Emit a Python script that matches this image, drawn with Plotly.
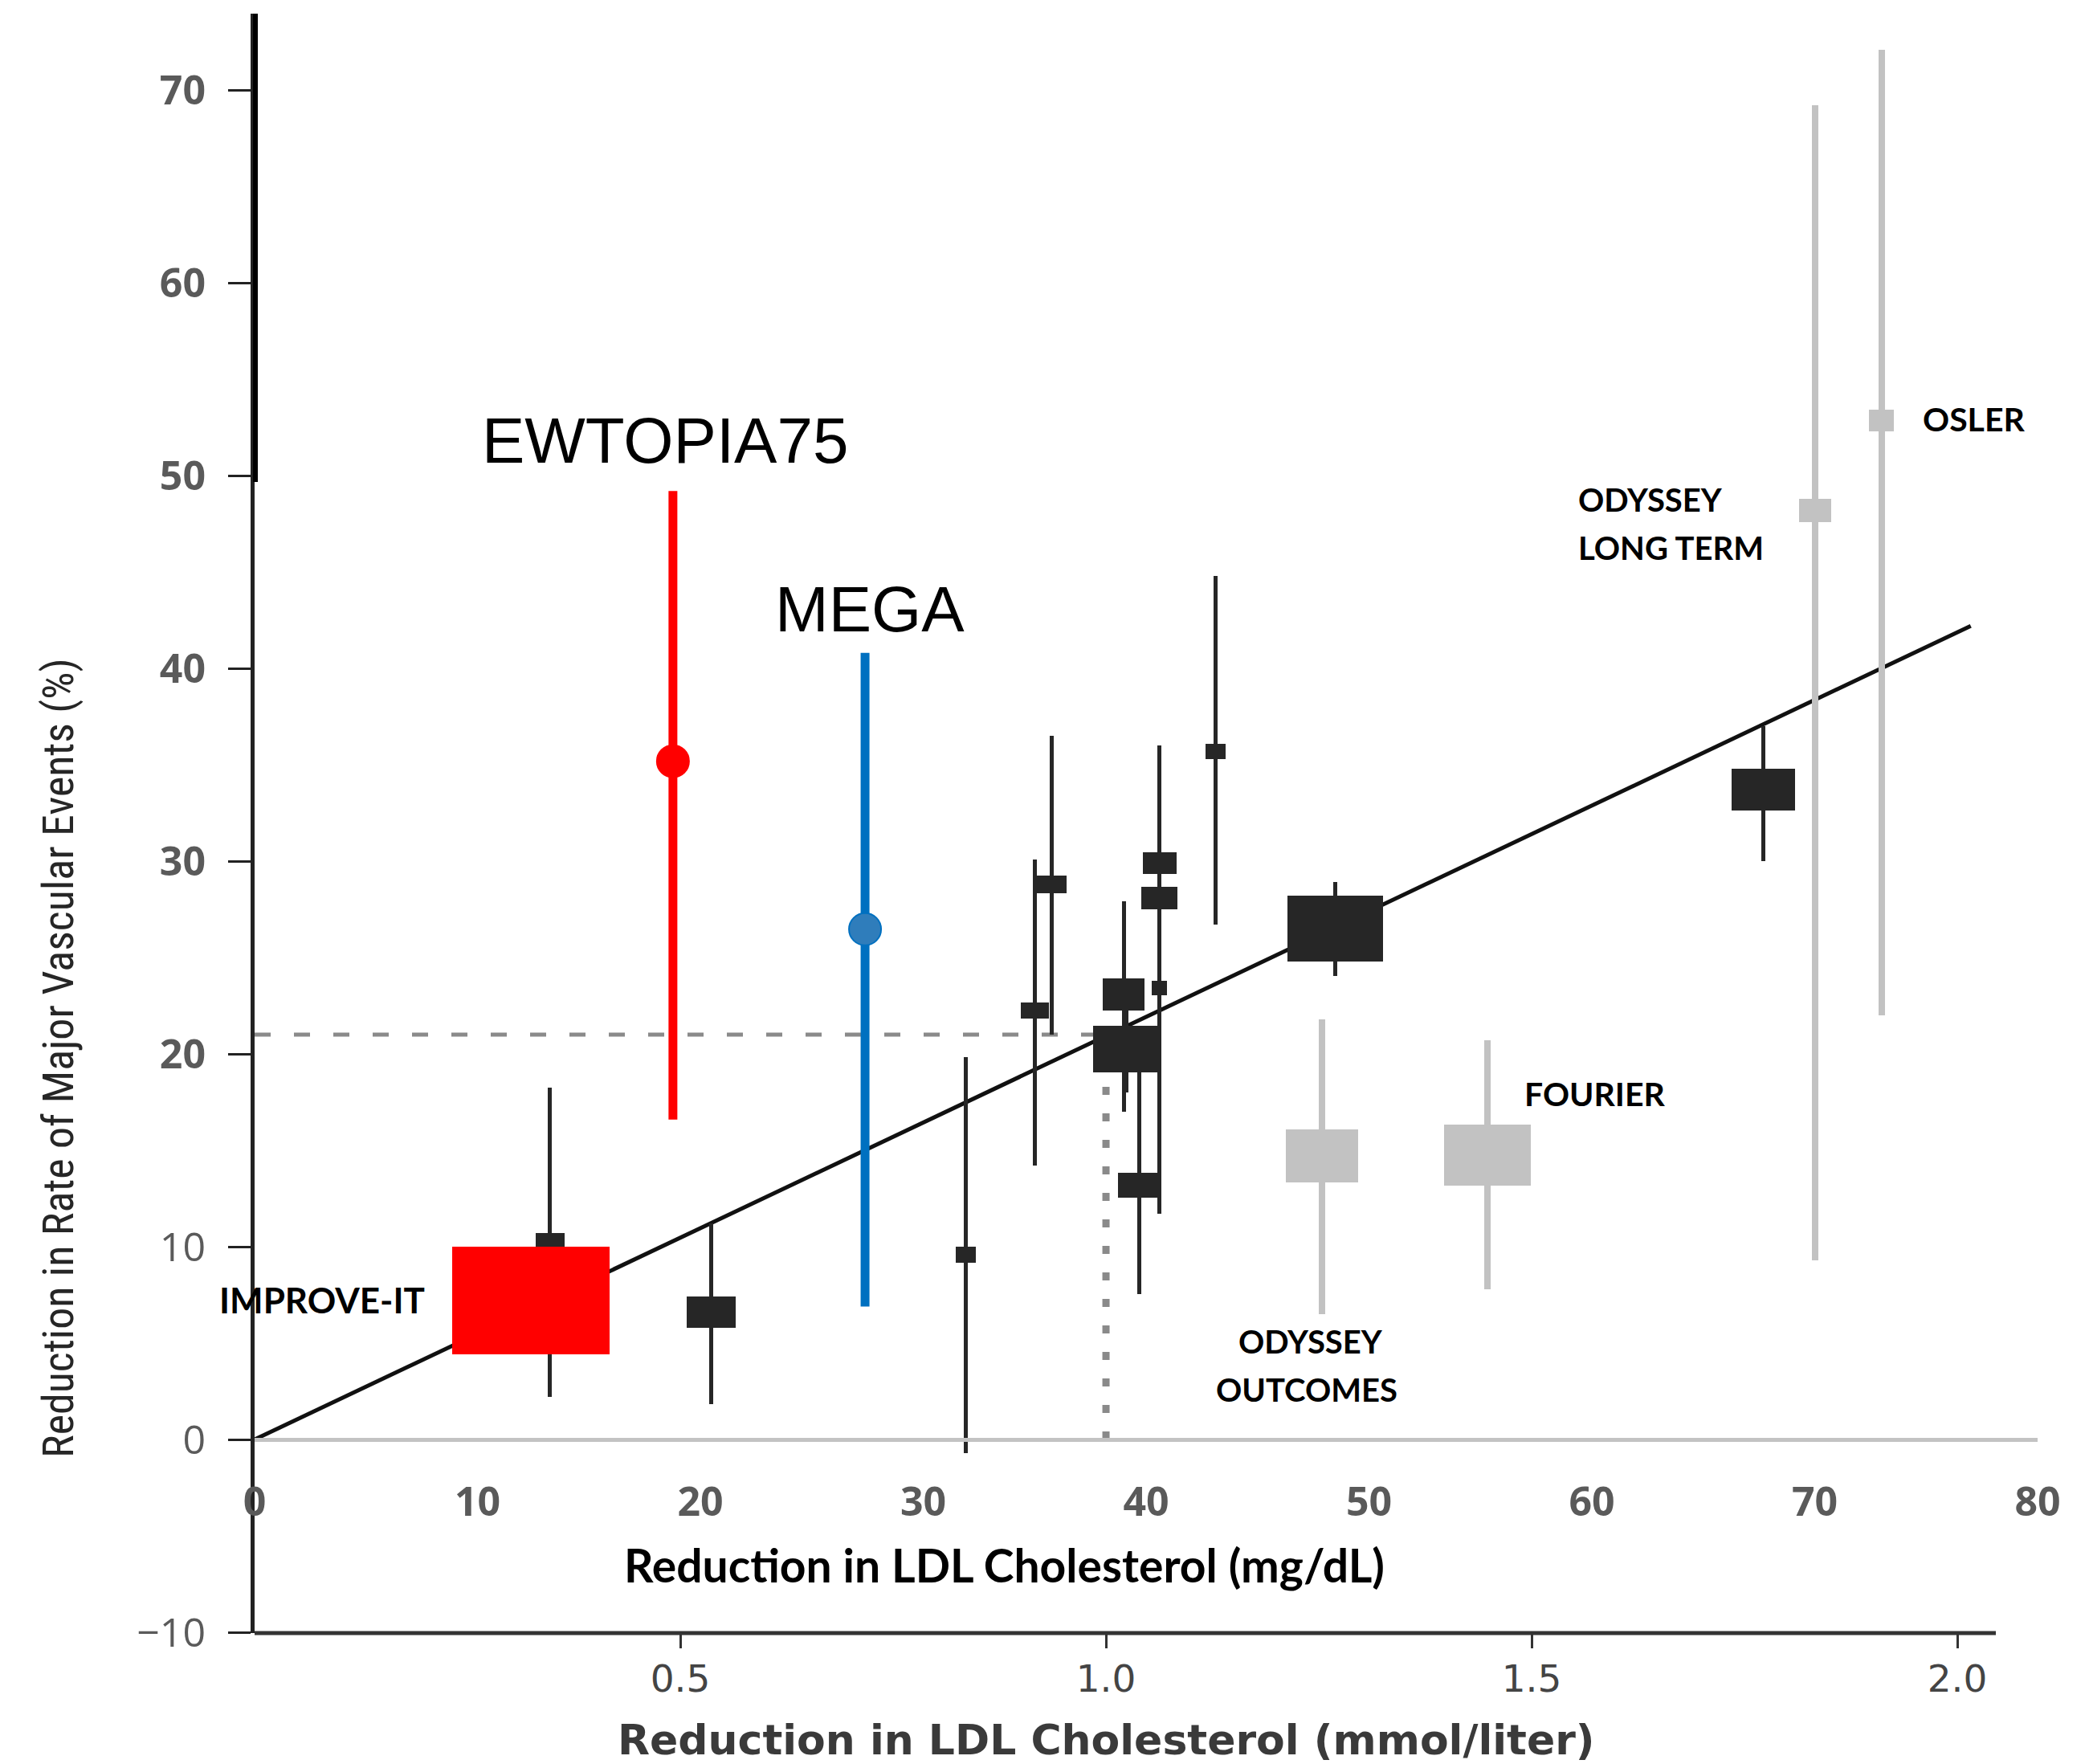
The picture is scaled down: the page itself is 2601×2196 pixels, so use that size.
import plotly.graph_objects as go

# ---------------- data ----------------
# CTT statin trials (reduction in LDL mg/dL, reduction in major vascular events %)
ctt_x = [13.25, 20.5, 31.9, 35.0, 35.76, 39.0, 39.1, 39.7, 40.6, 40.6, 40.6, 43.1, 48.5, 67.7]
ctt_y = [10.0, 6.6, 9.6, 22.25, 28.8, 23.1, 20.25, 13.2, 29.9, 28.1, 23.4, 35.7, 26.5, 33.7]
ctt_lo = [2.2, 1.85, -0.7, 14.2, 21.0, 17.0, 18.0, 7.55, 24.0, 21.0, 11.7, 26.7, 24.05, 30.0]
ctt_hi = [18.25, 11.2, 19.85, 30.1, 36.5, 27.9, 22.6, 19.5, 36.0, 33.0, 29.0, 44.8, 28.9, 37.0]

# PCSK9 inhibitor trials
pcsk9_names = ["ODYSSEY OUTCOMES", "FOURIER", "ODYSSEY LONG TERM", "OSLER"]
pcsk9_x = [47.9, 55.3, 70.0, 73.0]
pcsk9_y = [14.7, 14.75, 48.2, 52.85]
pcsk9_lo = [6.5, 7.8, 9.3, 22.0]
pcsk9_hi = [21.8, 20.7, 69.2, 72.1]

# IMPROVE-IT
improve_x = [12.4]
improve_y = [7.23]

# Japanese trials
jp_names = ["EWTOPIA75", "MEGA"]
jp_x = [18.77, 27.39]
jp_y = [35.18, 26.47]
jp_lo = [16.6, 6.9]
jp_hi = [49.2, 40.8]

# regression line and reference point (1 mmol/L ~ 21 %)
reg_x = [0, 77.0]
reg_y = [0, 42.2]
ref_x = 38.2
ref_y = 21.0

mg_ticks = [0, 10, 20, 30, 40, 50, 60, 70, 80]
mmol_ticks = [0.5, 1.0, 1.5, 2.0]
mmol_labels = ["0.5", "1.0", "1.5", "2.0"]
y_ticks = [-10, 0, 10, 20, 30, 40, 50, 60, 70]
y_labels = ["\u221210", "0", "10", "<b>20</b>", "<b>30</b>", "<b>40</b>", "<b>50</b>", "<b>60</b>", "<b>70</b>"]

# ---------------- style ----------------
OFF = 8                      # default page body margin
W, H = 2601 - OFF, 2196 - OFF
L, R, T, B = 317 - OFF, 64, 17 - OFF, 163
XR = [0, 80]
YR = [-10.04, 73.96]
MMOL_MAX = 2.0943
PW, PH = W - L - R, H - T - B
PXX = PW / (XR[1] - XR[0])
PXY = PH / (YR[1] - YR[0])

ctt_box_w = [36, 61, 25, 35, 37, 52, 82, 53, 42, 45, 19, 25, 119, 79]
ctt_box_h = [34, 39, 20, 20, 22, 40, 58, 31, 27, 28, 18, 19, 82, 52]
pcsk9_box_w = [90, 108, 40, 31]
pcsk9_box_h = [66, 76, 29, 27]
improve_w, improve_h = 196, 134
BLACK = "#262626"
GRAY = "#c2c2c2"


def px(X):
    # screen pixel -> paper fraction
    return (X - OFF - L) / PW


def py(Y):
    return (T + PH - (Y - OFF)) / PH


fig = go.Figure()

# base subplot: regression + reference lines
fig.add_trace(go.Scatter(x=reg_x, y=reg_y, mode="lines",
                         line=dict(color="#111111", width=5), hoverinfo="skip"))
fig.add_trace(go.Scatter(x=[0, ref_x], y=[ref_y, ref_y], mode="lines",
                         line=dict(color="#8a8a8a", width=5, dash="20px,29px"), hoverinfo="skip"))
fig.add_trace(go.Scatter(x=[ref_x, ref_x], y=[0, ref_y], mode="lines",
                         line=dict(color="#8a8a8a", width=9, dash="10px,23px"), hoverinfo="skip"))
# empty trace to register mmol axis
fig.add_trace(go.Scatter(x=[], y=[], xaxis="x2", yaxis="y", hoverinfo="skip"))


def whisker_bar(xs, lo, hi, wpx, color):
    return go.Bar(x=xs, base=lo, y=[h - l for l, h in zip(lo, hi)],
                  width=[wpx / PXX] * len(xs), marker=dict(color=color, line=dict(width=0)),
                  xaxis="x3", yaxis="y3", hoverinfo="skip")


def box_bar(xs, ys, wpx, hpx, color):
    hs = [h / PXY for h in hpx]
    return go.Bar(x=xs, base=[y - h / 2 for y, h in zip(ys, hs)], y=hs,
                  width=[w / PXX for w in wpx], marker=dict(color=color, line=dict(width=0)),
                  xaxis="x3", yaxis="y3", hoverinfo="skip")


fig.add_trace(whisker_bar(ctt_x, ctt_lo, ctt_hi, 5, BLACK))
fig.add_trace(box_bar(ctt_x, ctt_y, ctt_box_w, ctt_box_h, BLACK))
fig.add_trace(whisker_bar(pcsk9_x, pcsk9_lo, pcsk9_hi, 8, GRAY))
fig.add_trace(box_bar(pcsk9_x, pcsk9_y, pcsk9_box_w, pcsk9_box_h, GRAY))
fig.add_trace(box_bar(improve_x, improve_y, [improve_w], [improve_h], "#ff0000"))

# Japanese trials
jp_colors = ["#ff0000", "#0070c0"]
jp_fill = ["#ff0000", "#2f7dbb"]
for i in range(2):
    fig.add_trace(go.Scatter(
        x=[jp_x[i]], y=[jp_y[i]], mode="markers",
        marker=dict(size=40, color=jp_fill[i], line=dict(color=jp_colors[i], width=2)),
        error_y=dict(type="data", symmetric=False, array=[jp_hi[i] - jp_y[i]],
                     arrayminus=[jp_y[i] - jp_lo[i]], color=jp_colors[i], thickness=11, width=0),
        xaxis="x3", yaxis="y3", hoverinfo="skip"))

anns = []


def ann(text, X, Y, size, family, color="#000000", xanchor="center", weight="normal", angle=0):
    anns.append(dict(text=text, x=px(X), y=py(Y), xref="paper", yref="paper",
                     xanchor=xanchor, yanchor="middle", showarrow=False, textangle=angle,
                     font=dict(size=size, family=family, color=color, weight=weight)))


ann("EWTOPIA75", 828, 549, 80, "Liberation Sans")
ann("MEGA", 1083, 758, 80, "Liberation Sans")
ann("IMPROVE-IT", 401, 1618, 44, "Lato", weight="bold")
ann("ODYSSEY", 1632, 1670, 40, "Lato", weight="bold")
ann("OUTCOMES", 1627, 1730, 40, "Lato", weight="bold")
ann("FOURIER", 1896, 1361, 41, "Lato", xanchor="left", weight="bold")
ann("ODYSSEY", 1963, 622, 40, "Lato", xanchor="left", weight="bold")
ann("LONG TERM", 1963, 682, 40, "Lato", xanchor="left", weight="bold")
ann("OSLER", 2392, 521, 41, "Lato", xanchor="left", weight="bold")
ann("Reduction in LDL Cholesterol (mg/dL)", 1250, 1948, 57, "Lato", weight="bold")
ann("Reduction in LDL Cholesterol (mmol/liter)", 1377, 2166, 52, "DejaVu Sans", color="#3a3a3a", weight="bold")
ann("Reduction in Rate of Major Vascular Events (%)", 73, 1317, 54,
    "Liberation Sans Narrow, Roboto Condensed, Liberation Sans", color="#262626", angle=-90)

fig.update_layout(
    width=W, height=H,
    margin=dict(l=L, r=R, t=T, b=B, pad=0),
    paper_bgcolor="white", plot_bgcolor="rgba(0,0,0,0)",
    showlegend=False, barmode="overlay", bargap=0,
    xaxis=dict(domain=[0, 1], range=XR, anchor="free", position=(0 - YR[0]) / (YR[1] - YR[0]),
               showline=True, linecolor="#c3c3c3", linewidth=5, ticks="",
               tickvals=mg_ticks, ticktext=[str(v) for v in mg_ticks],
               tickfont=dict(family="Open Sans", size=50, color="#5a5a5a", weight="bold"),
               ticklabelstandoff=32, showgrid=False, zeroline=False),
    xaxis2=dict(overlaying="x", anchor="y", side="bottom", range=[0, MMOL_MAX],
                showline=False, ticks="outside", ticklen=18, tickwidth=3, tickcolor="#333333",
                tickvals=mmol_ticks, ticktext=mmol_labels,
                tickfont=dict(family="DejaVu Sans", size=47, color="#444444"),
                ticklabelstandoff=-2, showgrid=False, zeroline=False),
    xaxis3=dict(overlaying="x", range=XR, visible=False, showgrid=False, zeroline=False),
    yaxis=dict(domain=[0, 1], range=YR, anchor="x", showline=True, linecolor="#222222", linewidth=5,
               ticks="outside", ticklen=28, tickwidth=3, tickcolor="#222222",
               tickvals=y_ticks, ticktext=y_labels,
               tickfont=dict(family="Open Sans", size=50, color="#5a5a5a"),
               ticklabelstandoff=18, showgrid=False, zeroline=False),
    yaxis3=dict(overlaying="y", range=YR, visible=False, anchor="x3", showgrid=False, zeroline=False),
    shapes=[dict(type="line", xref="paper", yref="paper", x0=0, x1=px(2485), y0=0, y1=0,
                 line=dict(color="#333333", width=5)),
            dict(type="line", xref="paper", yref="paper", x0=px(318), x1=px(318), y0=py(600), y1=1,
                 line=dict(color="#000000", width=6))],
    annotations=anns,
)

fig.write_html("out.html")
